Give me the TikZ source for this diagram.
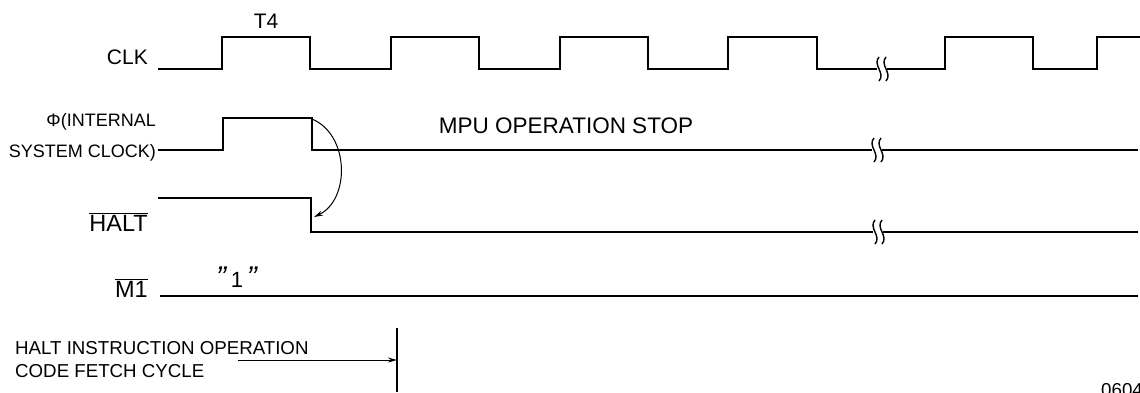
\documentclass[tikz,border=0pt]{standalone}
\usepackage{fontspec}
\setmainfont{Liberation Sans}
\usetikzlibrary{arrows.meta,positioning}

% break mark on a signal line
\tikzset{
  brk/.pic={
    \fill[white] (-5,-11) rectangle (5,11);
    \draw[line width=1.4pt] (-3,-12) .. controls (-10,-4) and (4,4) .. (-3,12);
    \draw[line width=1.4pt] (4,-12) .. controls (-3,-4) and (11,4) .. (4,12);
  }
}

\begin{document}
\begin{tikzpicture}[
  x=1pt, y=-1pt,
  sig/.style={line width=2.7pt},
  lab/.style={inner sep=0pt, font=\fontsize{22}{26}\selectfont},
  small/.style={inner sep=0pt, font=\fontsize{18.7}{23}\selectfont},
  >={Stealth[length=9pt,width=5pt]}
]
\clip (0,0) rectangle (1140,392);

% signal names
\node[lab, font=\fontsize{21}{25}\selectfont, anchor=base east] (clk) at (148,64) {CLK};
\node[small, font=\fontsize{18}{23}\selectfont, anchor=base east] (sys) at (156,157) {SYSTEM CLOCK)};
\node[small, font=\fontsize{18}{23}\selectfont, anchor=base east] (phi) at ([yshift=31pt]sys.base east) {Φ(INTERNAL};
\node[lab, font=\fontsize{23.5}{27}\selectfont, anchor=base east] (halt) at (148,231) {$\overline{\hbox{HALT}}$};
\node[lab, font=\fontsize{23.5}{27}\selectfont, anchor=base east] (m1) at (148,297) {$\overline{\hbox{M1}}$};

% waveforms
\draw[sig] (158,69) -- (222,69) -- (222,37) -- (310,37) -- (310,69) -- (391,69)
  -- (391,37) -- (479,37) -- (479,69) -- (560,69) -- (560,37) -- (648,37)
  -- (648,69) -- (728,69) -- (728,37) -- (817,37) -- (817,69) -- (945,69)
  -- (945,37) -- (1033,37) -- (1033,69) -- (1097,69) -- (1097,37) -- (1140,37);
\draw[sig] (158,150) -- (223,150) -- (223,118) -- (312,118) -- (312,150) -- (1138,150);
\draw[sig] (158,198) -- (311,198) -- (311,232) -- (1138,232);
\draw[sig] (160,296) -- (1138,296);
\pic at (882,69) {brk};
\pic at (877,150) {brk};
\pic at (878,232) {brk};

% labels on the waveforms
\node[lab, font=\fontsize{21}{25}\selectfont, anchor=base] (t4) at (266,28) {T4};
\node[lab, font=\fontsize{22.5}{26}\selectfont, anchor=base] (stop) at (566,133) {MPU OPERATION STOP};
\node[lab, anchor=base west] (one) at (216,287) {{\fontsize{30}{30}\selectfont\textit{”}}\,1\,{\fontsize{30}{30}\selectfont\textit{”}}};

% halt takes effect
\coordinate (phfall) at (312,119);
\coordinate (hlfall) at (314,217);
\draw[->, line width=1pt] (phfall) .. controls (350,135) and (350,200) .. (hlfall);

% fetch cycle
\node[small, anchor=west, align=left] (fetch) at (15,360) {HALT INSTRUCTION OPERATION\\CODE FETCH CYCLE};
\coordinate (cyc) at (397,328);
\coordinate (cycend) at (397,392);
\draw[line width=1.3pt] (cyc) -- (cycend);
\coordinate (arr) at (238,360);
\draw[->, line width=1pt] (arr) -- (arr -| cyc);

\node[small, anchor=north west] (num) at (1101,383) {06045};
\end{tikzpicture}
\end{document}
